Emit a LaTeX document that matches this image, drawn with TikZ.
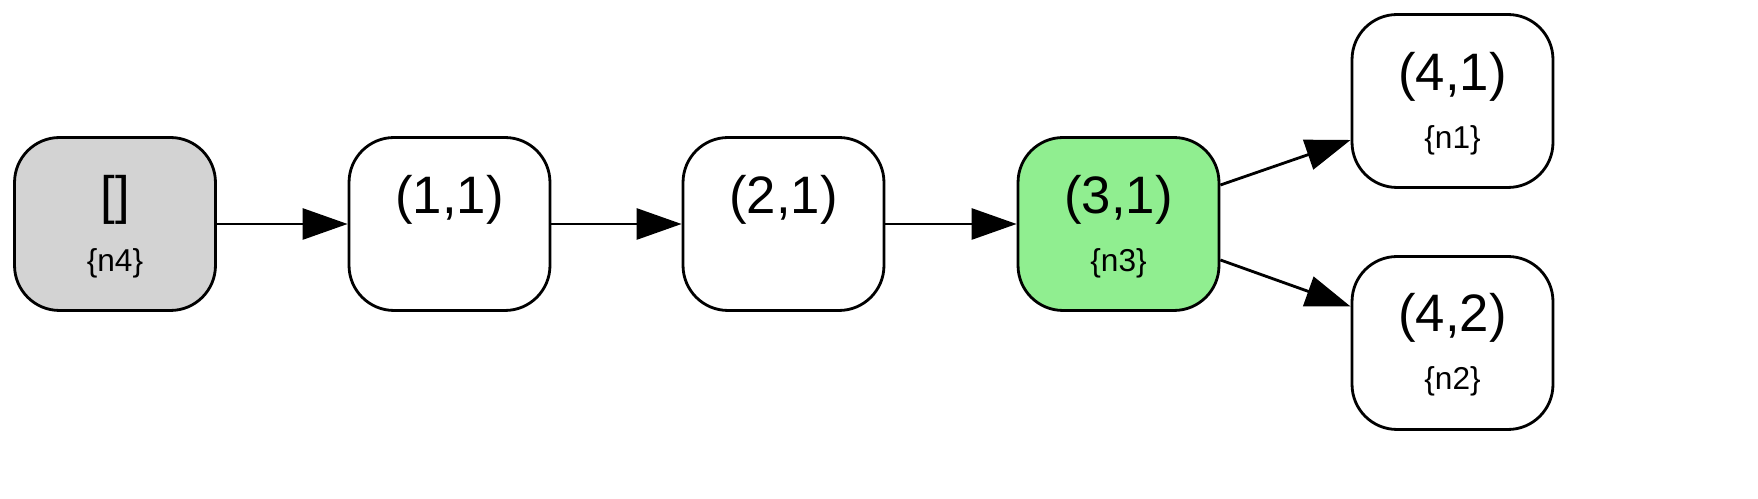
\documentclass[tikz,border=0pt]{standalone}
\usepackage{fontspec}
\setmainfont{Liberation Sans}
\usetikzlibrary{arrows.meta}
\definecolor{lgreen}{HTML}{90EE90}
\definecolor{lgray}{HTML}{D3D3D3}
\begin{document}
\begin{tikzpicture}[x=0.02cm,y=-0.02cm,
  box/.style={draw,line width=1.6pt,rounded corners=0.9cm,minimum width=4.02cm,minimum height=3.46cm,inner sep=0pt},
  big/.style={font=\fontsize{30}{32}\selectfont},
  small/.style={font=\fontsize{18}{20}\selectfont},
  edge/.style={line width=1.6pt,-{Triangle[length=0.9cm,width=0.62cm]}}]
\useasboundingbox (0,0) rectangle (1758,499);
\node[box,fill=lgray] (n4) at (115,224) {};
\node[box] (a) at (449.5,224) {};
\node[box] (b) at (783.5,224) {};
\node[box,fill=lgreen] (n3) at (1118.5,224) {};
\node[box] (n1) at (1452.5,101) {};
\node[box] (n2) at (1452.5,343) {};
\node[big] (t4) at (115,200) {[]};
\node[small] (s4) at (115,263) {\{n4\}};
\node[big] (ta) at (449.5,200) {(1,1)};
\node[big] (tb) at (783.5,200) {(2,1)};
\node[big] (t3) at (1118.5,200) {(3,1)};
\node[small] (s3) at (1118.5,263) {\{n3\}};
\node[big] (t1) at (1452.5,77) {(4,1)};
\node[small] (s1) at (1452.5,140) {\{n1\}};
\node[big] (t2) at (1452.5,318) {(4,2)};
\node[small] (s2) at (1452.5,381) {\{n2\}};
\draw[edge] (n4.east) -- (a.west);
\draw[edge] (a.east) -- (b.west);
\draw[edge] (b.east) -- (n3.west);
\draw[edge] ([yshift=0.78cm]n3.east) -- ([yshift=-0.78cm]n1.west);
\draw[edge] ([yshift=-0.72cm]n3.east) -- ([yshift=0.73cm]n2.west);
\end{tikzpicture}
\end{document}
